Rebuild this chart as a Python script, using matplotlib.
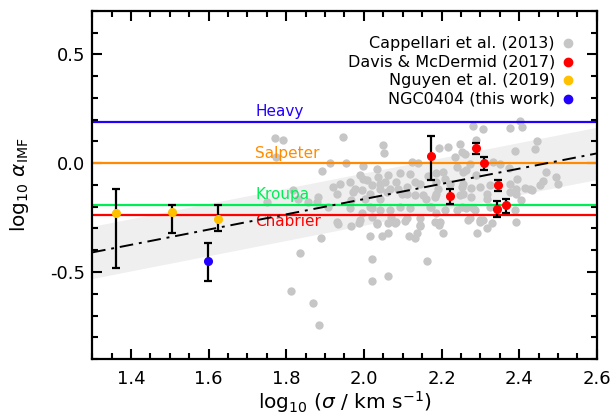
import matplotlib.pyplot as plt
from matplotlib.ticker import MultipleLocator, FormatStrFormatter
import numpy as np

plt.rcParams['font.family'] = ['DejaVu Sans']
plt.rcParams['axes.unicode_minus'] = False

# Cappellari et al. (2013) - grey cloud
cap_x = [1.771, 1.792, 1.945, 2.049, 2.052, 2.281, 2.307, 2.403, 2.408, 2.376,
         2.445, 2.440, 2.389, 2.194, 2.217, 2.247, 2.252, 2.234, 2.290, 2.260,
         1.914, 1.953, 1.891, 1.773, 2.123, 2.140, 2.093, 2.187, 2.166, 2.333,
         2.350, 2.375, 2.273, 2.256, 2.205, 2.209, 2.470, 2.495, 2.500, 2.462,
         2.395, 2.415, 2.427, 2.393, 2.376, 2.277, 2.299, 2.252, 2.191, 2.183,
         2.247, 2.277, 2.406, 2.316, 2.324, 2.252, 2.286, 2.264, 2.209, 2.187,
         2.389, 2.273, 2.299, 2.183, 2.453, 2.432,
         1.998, 2.037, 2.054, 2.020, 1.977, 1.994, 2.041, 2.067, 2.088, 2.110,
         2.131, 2.144, 2.097, 2.131, 2.041, 2.003, 1.968, 1.964, 2.020, 2.041,
         2.093, 2.110, 2.071, 1.994, 2.144, 2.161, 2.174, 1.907, 2.020, 1.920,
         1.818, 1.750, 1.830, 1.856, 1.878, 1.881, 1.934,
         1.968, 1.988, 2.033, 2.061, 2.080, 2.106, 2.144, 2.194, 1.889, 2.016,
         2.046, 2.061, 2.117, 2.131, 2.137, 1.835, 2.022, 2.163, 2.061, 2.020,
         1.812, 1.868, 1.885, 2.205, 2.269, 2.299, 2.331, 2.316, 2.292,
         1.998, 2.033, 1.990, 2.062, 2.119, 2.239, 2.264, 2.290, 1.938, 1.964,
         2.007, 2.041, 2.084, 2.187, 2.221, 2.256, 2.324, 2.376, 1.930, 1.973,
         2.016, 2.059, 2.110, 2.153, 2.187, 2.256, 2.316, 2.393, 2.016, 2.067,
         2.119, 2.170, 2.239, 2.281, 1.930, 1.990, 2.033, 2.084, 2.144, 2.196,
         2.307, 2.393]
cap_y = [0.115, 0.106, 0.122, 0.085, 0.047, 0.172, 0.157, 0.192, 0.165, 0.160,
         0.101, 0.066, 0.058, 0.070, 0.073, 0.088, 0.050, 0.027, 0.106, 0.043,
         0.001, 0.001, -0.038, 0.027, 0.005, 0.001, -0.046, -0.046, -0.061, 0.005,
         -0.003, -0.021, -0.003, -0.041, -0.041, -0.071, -0.041, -0.064, -0.097, -0.082,
         -0.071, -0.112, -0.117, -0.117, -0.133, -0.112, -0.110, -0.110, -0.117, -0.155,
         -0.148, -0.155, -0.170, -0.163, -0.201, -0.201, -0.216, -0.208, -0.213, -0.231,
         -0.216, -0.254, -0.262, -0.270, -0.102, -0.125,
         -0.071, -0.064, -0.087, -0.102, -0.117, -0.125, -0.117, -0.117, -0.117, -0.110,
         -0.087, -0.094, -0.140, -0.148, -0.163, -0.163, -0.167, -0.208, -0.208, -0.216,
         -0.201, -0.254, -0.247, -0.231, -0.254, -0.163, -0.201, -0.201, -0.247, -0.110,
         -0.125, -0.178, -0.163, -0.178, -0.178, -0.155, -0.280,
         -0.289, -0.277, -0.280, -0.273, -0.273, -0.265, -0.289, -0.285, -0.346, -0.335,
         -0.335, -0.319, -0.335, -0.346, -0.323, -0.414, -0.440, -0.449, -0.518, -0.541,
         -0.586, -0.643, -0.744, -0.319, -0.262, -0.270, -0.273, -0.297, -0.319,
         -0.011, -0.026, -0.056, -0.056, -0.048, -0.018, -0.033, -0.056, -0.094, -0.087,
         -0.079, -0.094, -0.087, -0.087, -0.094, -0.094, -0.102, -0.094, -0.140, -0.133,
         -0.140, -0.133, -0.140, -0.148, -0.140, -0.140, -0.140, -0.140, -0.201, -0.216,
         -0.208, -0.201, -0.216, -0.208, -0.270, -0.262, -0.277, -0.270, -0.285, -0.270,
         -0.262, -0.270]

# Davis & McDermid (2017)
dm_x = [2.172, 2.288, 2.310, 2.221, 2.346, 2.344, 2.367]
dm_y = [0.031, 0.069, 0.000, -0.152, -0.102, -0.212, -0.193]
dm_lo = [0.106, 0.026, 0.030, 0.037, 0.026, 0.035, 0.035]
dm_hi = [0.096, 0.022, 0.027, 0.032, 0.027, 0.037, 0.030]

# Nguyen et al. (2019)
ng_x = [1.362, 1.505, 1.623]
ng_y = [-0.227, -0.224, -0.256]
ng_lo = [0.253, 0.096, 0.055]
ng_hi = [0.107, 0.031, 0.063]

# NGC0404 (this work)
n404_x = [1.599]
n404_y = [-0.451]
n404_lo = [0.088]
n404_hi = [0.085]

# IMF reference levels
imf_names = ['Heavy', 'Salpeter', 'Kroupa', 'Chabrier']
imf_vals = [0.19, 0.0, -0.19, -0.24]
imf_cols = ['#2200ff', '#ff8c00', '#00ee55', '#ff0000']

# Cappellari (2013) relation: y = a + b (x - 2.3), scatter +-0.12
fit_a, fit_b, fit_scatter = -0.06, 0.35, 0.12

legend_labels = ['Cappellari et al. (2013)', 'Davis & McDermid (2017)',
                 'Nguyen et al. (2019)', 'NGC0404 (this work)']
legend_cols = ['#c6c6c6', '#ff0000', '#ffc000', '#2200ff']

fig = plt.figure(figsize=(6.14, 4.18), dpi=100)
ax = fig.add_axes([0.150, 0.141, 0.822, 0.833])

xx = np.array([1.3, 2.6])
yy = fit_a + fit_b * (xx - 2.3)
ax.fill_between(xx, yy - fit_scatter, yy + fit_scatter, color='#efefef', lw=0, zorder=0)

for name, val, col in zip(imf_names, imf_vals, imf_cols):
    ax.axhline(val, color=col, lw=1.6, zorder=2)
    if name == 'Chabrier':
        ax.text(1.72, val + 0.008, name, color=col, fontsize=11, va='top', ha='left', zorder=3)
    else:
        ax.text(1.72, val + 0.012, name, color=col, fontsize=11, va='bottom', ha='left', zorder=3)

ax.scatter(cap_x, cap_y, s=36, color='#c6c6c6', lw=0, zorder=1)
ax.plot(xx, yy, color='black', lw=1.4, ls=(0, (7, 3, 1.5, 3)), zorder=4)

ekw = dict(fmt='o', ms=5.5, ecolor='black', elinewidth=1.6, capsize=3, capthick=1.6, zorder=5)
ax.errorbar(dm_x, dm_y, yerr=[dm_lo, dm_hi], mfc='#ff0000', mec='#ff0000', **ekw)
ax.errorbar(ng_x, ng_y, yerr=[ng_lo, ng_hi], mfc='#ffc000', mec='#ffc000', **ekw)
ax.errorbar(n404_x, n404_y, yerr=[n404_lo, n404_hi], mfc='#2200ff', mec='#2200ff', **ekw)

ax.set_xlim(1.3, 2.6)
ax.set_ylim(-0.9, 0.7)
ax.xaxis.set_major_locator(MultipleLocator(0.2))
ax.xaxis.set_minor_locator(MultipleLocator(0.05))
ax.yaxis.set_major_locator(MultipleLocator(0.5))
ax.yaxis.set_minor_locator(MultipleLocator(0.1))
ax.xaxis.set_major_formatter(FormatStrFormatter('%.1f'))
ax.yaxis.set_major_formatter(FormatStrFormatter('%.1f'))
ax.tick_params(which='both', direction='in', top=True, right=True, width=1.5, labelsize=13)
ax.tick_params(which='major', length=7)
ax.tick_params(which='minor', length=4)
ax.tick_params(axis='x', pad=8)
ax.tick_params(axis='y', pad=5)
for sp in ax.spines.values():
    sp.set_linewidth(1.6)

ax.set_xlabel(r'log$_{10}$ ($\sigma$ / km s$^{-1}$)', fontsize=14.5, labelpad=1)
ax.set_ylabel(r'log$_{10}$ $\alpha_{\rm IMF}$', fontsize=14.5, labelpad=14)

# legend: text right-aligned, marker to the right
leg_y = [0.907, 0.853, 0.801, 0.746]
for lab, col, ly in zip(legend_labels, legend_cols, leg_y):
    ax.text(0.917, ly, lab, transform=ax.transAxes, ha='right', va='center', fontsize=11.5)
    ax.plot([0.943], [ly], 'o', ms=6, mfc=col, mec=col, transform=ax.transAxes)

fig.savefig('out.png', dpi=100)
